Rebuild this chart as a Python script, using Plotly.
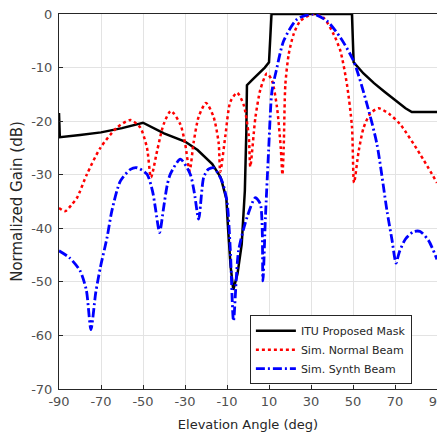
import plotly.graph_objects as go

# ITU Proposed Mask
mask_x = [-90, -89.6, -80, -70, -60, -50, -40, -30, -24, -17, -13, -10.3, -9.5, -8.3, -7, -5, -3, -1.5, -0.8, -0.5,
          2, 5, 8, 10, 10.5, 11.2, 49.5, 50.3, 55, 60, 65, 70, 75, 78, 90]
mask_y = [-18.5, -23, -22.6, -22.1, -21.3, -20.3, -22.3, -23.8, -25.4, -28, -30.5, -34.5, -40, -47, -51.5, -48.5, -43, -33, -22, -13.3,
          -12.3, -11.2, -10, -9, -5, 0, 0, -9, -11.1, -12.9, -14.5, -16.1, -17.6, -18.3, -18.3]

# Sim. Normal Beam
normal_x = [-90, -87, -84, -81.4, -76.7, -70.3, -62.4, -56, -51.3, -48.1, -46.2,
            -43.3, -40.2, -36.7, -32.2, -29.9, -27.8,
            -25.9, -23.5, -20, -16.4, -14, -13.2,
            -10.8, -8.4, -5.2, -2.1, 0.3, 1.1,
            3.5, 5.9, 9, 11.4, 13.8, 15.6, 16.4,
            17, 17.8, 19.4, 21.7, 24.9, 31, 36, 40.8, 44, 47.1, 49.5, 50.5,
            52.7, 55, 58.2, 62.2, 67.7, 72.5, 82, 90]
normal_y = [-36.2, -36.8, -35.6, -34.3, -29.9, -25, -21.2, -19.8, -21.2, -25, -30.5,
            -25.6, -20.6, -18.1, -20.6, -24.3, -29.3,
            -24, -19.2, -16.6, -19.2, -24, -29.5,
            -22.8, -16.4, -14.7, -16.9, -22.5, -28.5,
            -19.4, -14.1, -11.1, -12.4, -17.4, -25, -30,
            -25, -13.1, -7.5, -3.8, -1.3, 0, -0.7, -3.8, -6.9, -13.1, -21, -31.5,
            -25.6, -21.3, -18.6, -17.6, -18.8, -20.6, -26.2, -31.5]

# Sim. Synth Beam
synth_x = [-90, -85, -80, -77, -74.8, -72.5, -70.3, -67.1, -64.8, -60.8, -56, -52.9, -48.1, -45.5, -44.1, -42.1,
           -40.2, -38.5, -37, -32.2, -27.5, -25.5, -23.5, -21.1, -19, -16.4, -12.4, -10, -8.4, -6.9,
           -4.5, -0.5, 3.5, 5.9, 7.1, 8.3, 9.8, 11.4, 13.5, 17, 23.3, 31, 37.6, 44, 50.3, 56.7, 61.4, 66.2,
           68.5, 70.5, 72, 75, 79, 82, 86, 90]
synth_y = [-44.2, -45.5, -47.9, -51.5, -58.9, -52, -47.3, -41.7, -36.7, -31.2, -29, -28.7, -29.9, -33, -36.2, -40.8,
           -36.2, -32, -29.9, -27.1, -29.9, -33.5, -38.3, -30.5, -29, -28.7, -31.2, -35, -44.2, -57.3,
           -44.2, -38, -34.3, -35.5, -49.8, -38, -25.6, -14.4, -10.5, -5, -1, 0, -1.3, -4.4, -8.8, -16.9, -24.3, -36.8,
           -42, -46.5, -44.5, -42, -40.6, -40.6, -42.3, -45.8]

x_ticks = [-90, -70, -50, -30, -10, 10, 30, 50, 70, 90]
x_tick_labels = ["-90", "-70", "-50", "-30", "-10", "10", "30", "50", "70", "90"]
y_ticks = [0, -10, -20, -30, -40, -50, -60, -70]
y_tick_labels = ["0", "-10", "-20", "-30", "-40", "-50", "-60", "-70"]

fig = go.Figure()
fig.add_trace(go.Scatter(x=mask_x, y=mask_y, mode="lines", name="ITU Proposed Mask",
                         line=dict(color="black", width=2.5)))
fig.add_trace(go.Scatter(x=normal_x, y=normal_y, mode="lines", name="Sim. Normal Beam",
                         line=dict(color="red", width=2.5, dash="dot", shape="spline", smoothing=0.7)))
fig.add_trace(go.Scatter(x=synth_x, y=synth_y, mode="lines", name="Sim. Synth Beam",
                         line=dict(color="blue", width=2.8, dash="9px,3px,2px,3px", shape="spline", smoothing=0.7)))

axis_common = dict(showgrid=True, gridcolor="#e3e3e3", gridwidth=1, zeroline=False,
                   showline=True, linecolor="#262626", linewidth=1, mirror=True,
                   ticks="inside", ticklen=4, tickcolor="#262626",
                   ticklabeloverflow="allow", automargin=False,
                   tickfont=dict(family="DejaVu Sans", size=13, color="#505050"))

fig.update_layout(
    width=437, height=428,
    margin=dict(l=51, r=8, t=6, b=47, autoexpand=False),
    paper_bgcolor="white", plot_bgcolor="white",
    font=dict(family="Liberation Sans, Arial", size=12, color="#262626"),
    xaxis=dict(range=[-90, 90], tickvals=x_ticks, ticktext=x_tick_labels,
               title=dict(text="Elevation Angle (deg)", standoff=12,
                          font=dict(family="DejaVu Sans", size=13, color="#262626")),
               **axis_common),
    yaxis=dict(range=[-70, 0], tickvals=y_ticks, ticktext=y_tick_labels, ticklabelstandoff=3,
               title=dict(text="Normalized Gain (dB)", standoff=6,
                          font=dict(family="DejaVu Sans", size=15, color="#262626")),
               **axis_common),
    legend=dict(x=0.505, y=0.197, xanchor="left", yanchor="top",
                bgcolor="white", bordercolor="#262626", borderwidth=1,
                font=dict(family="DejaVu Sans", size=11, color="#262626"),
                tracegroupgap=0, itemwidth=40),
    showlegend=True,
)

fig.write_html("out.html")
